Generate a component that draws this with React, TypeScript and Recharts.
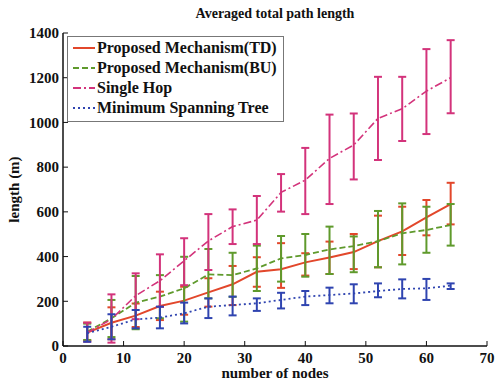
import React from 'react';
import { LineChart, Line, XAxis, YAxis, ErrorBar, Legend } from 'recharts';

const nodes = [4, 8, 12, 16, 20, 24, 28, 32, 36, 40, 44, 48, 52, 56, 60, 64];

const tdMean = [60, 104, 136, 179, 203, 240, 276, 332, 343, 374, 396, 420, 469, 513, 575, 635];
const tdLow = [25, 30, 85, 116, 140, 176, 183, 265, 260, 315, 322, 344, 352, 407, 495, 544];
const tdHigh = [105, 173, 190, 243, 265, 303, 358, 397, 460, 415, 467, 501, 583, 623, 653, 730];

const buMean = [64, 124, 194, 221, 258, 320, 317, 347, 392, 407, 432, 447, 469, 504, 519, 541];
const buLow = [27, 40, 75, 124, 109, 213, 220, 246, 288, 310, 322, 330, 352, 365, 417, 449];
const buHigh = [100, 206, 313, 317, 399, 434, 417, 449, 492, 501, 534, 490, 604, 638, 623, 635];

const hopMean = [60, 120, 225, 292, 381, 470, 534, 563, 687, 742, 839, 899, 1018, 1061, 1140, 1200];
const hopLow = [19, 15, 120, 175, 272, 340, 456, 456, 601, 590, 635, 745, 832, 917, 948, 1041];
const hopHigh = [104, 231, 325, 410, 482, 590, 611, 671, 769, 886, 1035, 1040, 1204, 1204, 1328, 1368];

const mstMean = [57, 86, 119, 127, 146, 176, 183, 191, 206, 221, 228, 235, 246, 255, 258, 270];
const mstLow = [19, 30, 79, 79, 101, 125, 137, 157, 168, 183, 191, 191, 218, 213, 206, 255];
const mstHigh = [86, 142, 161, 176, 194, 213, 221, 213, 238, 246, 261, 276, 280, 298, 300, 280];

const xTicks = [0, 10, 20, 30, 40, 50, 60, 70];
const yTicks = [0, 200, 400, 600, 800, 1000, 1200, 1400];

const series = [
  { key: 'td', name: 'Proposed Mechanism(TD)', color: '#e2472b', dash: undefined, width: 2 },
  { key: 'bu', name: 'Proposed Mechanism(BU)', color: '#5f9a2c', dash: '6 3', width: 1.8 },
  { key: 'hop', name: 'Single Hop', color: '#d3337b', dash: '8 3 2 3', width: 1.6 },
  { key: 'mst', name: 'Minimum Spanning Tree', color: '#2f44b0', dash: '2 3', width: 1.8 },
];

const err = (mean: number[], low: number[], high: number[], i: number) => [mean[i] - low[i], high[i] - mean[i]];

const data = nodes.map((n, i) => ({
  n,
  td: tdMean[i],
  tdErr: err(tdMean, tdLow, tdHigh, i),
  bu: buMean[i],
  buErr: err(buMean, buLow, buHigh, i),
  hop: hopMean[i],
  hopErr: err(hopMean, hopLow, hopHigh, i),
  mst: mstMean[i],
  mstErr: err(mstMean, mstLow, mstHigh, i),
}));

const font = 'Liberation Serif, DejaVu Serif, serif';
const tickStyle = { fontFamily: font, fontWeight: 'bold', fontSize: 15, fill: '#111' };

function LegendBox() {
  return (
    <div
      style={{
        background: '#fff',
        border: '1px solid #777',
        padding: '1px 6px 3px 4px',
        fontFamily: font,
        fontWeight: 'bold',
        fontSize: 16,
        color: '#111',
        lineHeight: '20px',
      }}
    >
      {series.map((s) => (
        <div key={s.key} style={{ display: 'flex', alignItems: 'center', whiteSpace: 'nowrap' }}>
          <svg width={24} height={6} style={{ marginRight: 1 }}>
            <line x1={1} y1={3} x2={23} y2={3} stroke={s.color} strokeWidth={2} strokeDasharray={s.dash} />
          </svg>
          {s.name}
        </div>
      ))}
    </div>
  );
}

export default function App() {
  return (
    <div style={{ position: 'absolute', left: 0, top: 0, width: 495, height: 384, background: '#fff' }}>
      <div
        style={{
          position: 'absolute',
          left: 63,
          width: 424,
          top: 6,
          textAlign: 'center',
          fontFamily: font,
          fontWeight: 'bold',
          fontSize: 14,
          color: '#111',
        }}
      >
        Averaged total path length
      </div>
      <LineChart width={495} height={384} data={data} margin={{ top: 33, right: 8, bottom: 0, left: 0 }}>
        <XAxis
          dataKey="n"
          type="number"
          domain={[0, 70]}
          ticks={xTicks}
          height={38}
          tickSize={-5}
          tickMargin={11}
          tick={tickStyle}
          stroke="#111"
          axisLine={{ stroke: '#111', strokeWidth: 1.5 }}
          label={{ value: 'number of nodes', position: 'insideBottom', offset: 6, style: { ...tickStyle, textAnchor: 'middle' } }}
        />
        <XAxis
          xAxisId="top"
          orientation="top"
          dataKey="n"
          type="number"
          domain={[0, 70]}
          ticks={xTicks}
          height={0}
          tickSize={-5}
          tick={() => <g />}
          stroke="#111"
          axisLine={{ stroke: '#111', strokeWidth: 1.5 }}
        />
        <YAxis
          type="number"
          domain={[0, 1400]}
          ticks={yTicks}
          width={63}
          tickSize={-5}
          tickMargin={9}
          tick={tickStyle}
          stroke="#111"
          axisLine={{ stroke: '#111', strokeWidth: 1.5 }}
          label={{ value: 'length (m)', angle: -90, position: 'insideLeft', offset: 14, style: { ...tickStyle, textAnchor: 'middle' } }}
        />
        <YAxis
          yAxisId="right"
          orientation="right"
          type="number"
          domain={[0, 1400]}
          ticks={yTicks}
          width={0}
          tickSize={-5}
          tick={() => <g />}
          stroke="#111"
          axisLine={{ stroke: '#111', strokeWidth: 1.5 }}
        />
        <Legend
          layout="vertical"
          align="center"
          verticalAlign="middle"
          wrapperStyle={{ left: 67, top: 36, width: 'auto' }}
          content={() => <LegendBox />}
        />
        {series.map((s) => (
          <Line
            key={s.key}
            dataKey={s.key}
            name={s.name}
            stroke={s.color}
            strokeWidth={s.width}
            strokeDasharray={s.dash}
            dot={false}
            activeDot={false}
            isAnimationActive={false}
          >
            <ErrorBar dataKey={`${s.key}Err`} direction="y" width={4} stroke={s.color} strokeWidth={2} />
          </Line>
        ))}
      </LineChart>
    </div>
  );
}
